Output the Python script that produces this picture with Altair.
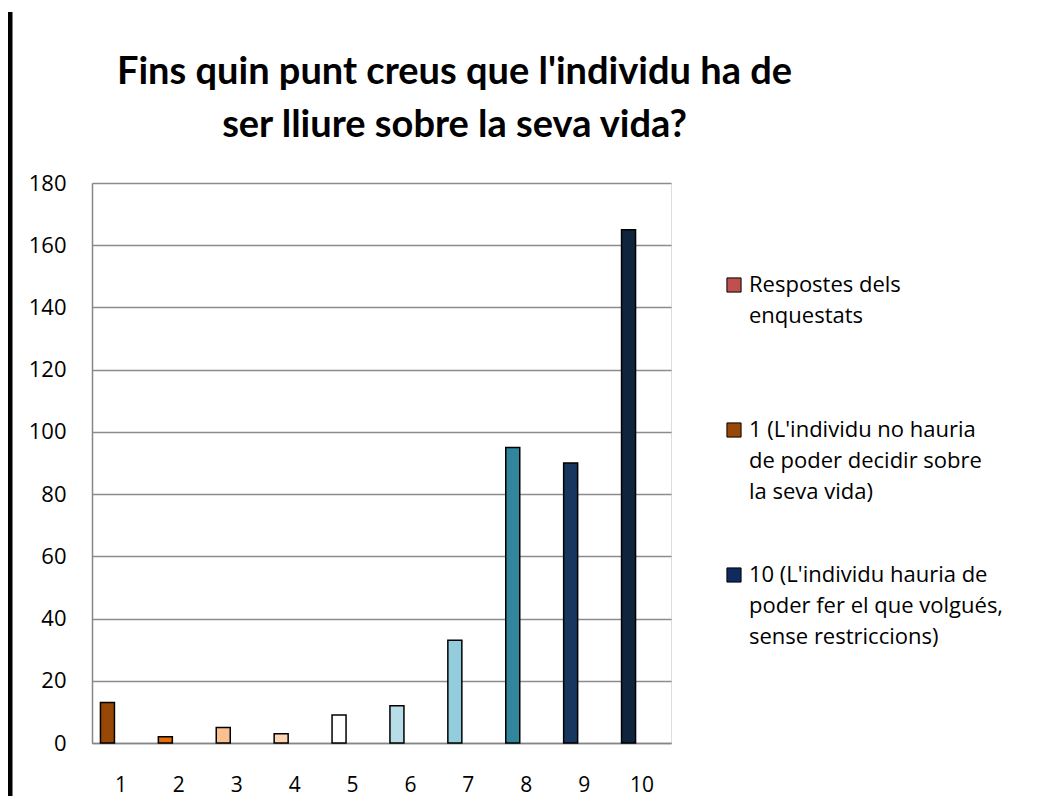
import altair as alt
import pandas as pd

categories = ["1", "2", "3", "4", "5", "6", "7", "8", "9", "10"]
values = [13, 2, 5, 3, 9, 12, 33, 95, 90, 165]
bar_colors = ["#974706", "#E46C0A", "#FAC090", "#FCD5B5", "#FFFFFF",
              "#B7DEE8", "#93CDDD", "#31859C", "#17375E", "#10243E"]

legend_labels = [
    "Respostes dels|enquestats",
    "1 (L'individu no hauria|de poder decidir sobre|la seva vida)",
    "10 (L'individu hauria de|poder fer el que volgués,|sense restriccions)",
]
legend_colors = ["#C0504D", "#984807", "#0F2A5E"]

title_lines = ["Fins quin punt creus que l'individu ha de", "ser lliure sobre la seva vida?"]

TFONT = "Lato"
FONT = "Open Sans"

df = pd.DataFrame({"cat": categories, "val": values, "col": bar_colors})
leg = pd.DataFrame({"label": legend_labels})

bars = alt.Chart(df).mark_bar(width=14, xOffset=-13.5, stroke="black", strokeWidth=1.5).encode(
    x=alt.X("cat:N", sort=categories,
            scale=alt.Scale(paddingInner=0, paddingOuter=0),
            axis=alt.Axis(title=None, labelAngle=0, ticks=False, grid=False,
                          domainColor="#868686", domainWidth=1.5,
                          labelFont=FONT, labelFontSize=21, labelColor="#000000",
                          labelPadding=31)),
    y=alt.Y("val:Q", scale=alt.Scale(domain=[0, 180], nice=False),
            axis=alt.Axis(title=None, values=list(range(0, 181, 20)), ticks=False,
                          gridColor="#8C8C8C", gridWidth=1.5,
                          domainColor="#868686", domainWidth=1.5,
                          labelFont=FONT, labelFontSize=22, labelColor="#000000",
                          labelPadding=26)),
    color=alt.Color("col:N", scale=None),
)

legend_layer = alt.Chart(leg).mark_square(opacity=0).encode(
    color=alt.Color("label:N", title=None, sort=legend_labels,
                    scale=alt.Scale(domain=legend_labels, range=legend_colors),
                    legend=alt.Legend(orient="none", legendX=631, legendY=91,
                                      symbolType="square", symbolSize=200,
                                      symbolStrokeColor="black", symbolStrokeWidth=1,
                                      symbolOpacity=1,
                                      labelExpr="split(datum.label, '|')",
                                      labelFont=FONT, labelFontSize=22,
                                      labelColor="#000000", labelLimit=400,
                                      labelBaseline="middle",
                                      labelOffset=4, rowPadding=61, padding=0,
                                      gridAlign="all")),
)

side_line = alt.Chart(pd.DataFrame({"k": [0]})).mark_rule(color="black", strokeWidth=5).encode(
    x=alt.value(-82), y=alt.value(-171), y2=alt.value(621)
)

chart = alt.layer(side_line, bars, legend_layer).properties(
    width=579, height=560,
    title=alt.TitleParams(text=title_lines, font=TFONT, fontSize=38, fontWeight="bold",
                          color="#000000", anchor="middle", frame="group", dx=73,
                          offset=-173, lineHeight=53, baseline="bottom"),
    autosize=alt.AutoSizeParams(type="none"),
    padding={"left": 84, "top": 175, "right": 361, "bottom": 53},
).configure_view(stroke="#222222", strokeWidth=1.5).configure(
    style={"guide-label": {"lineHeight": 31}}
)

chart.save("out.html", embed_options={"renderer": "svg", "actions": False})
